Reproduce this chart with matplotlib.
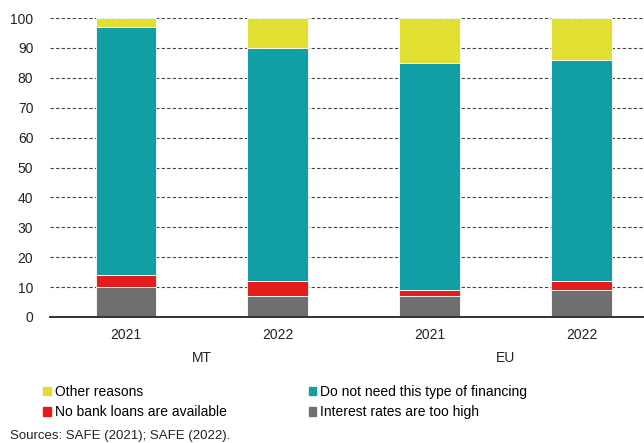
import matplotlib

matplotlib.use("Agg")
import matplotlib.pyplot as plt
import numpy as np
from matplotlib.patches import Patch

plt.rcParams["font.family"] = ["Liberation Sans", "DejaVu Sans"]

years = ["2021", "2022", "2021", "2022"]
groups = ["MT", "EU"]

interest_high = [10, 7, 7, 9]
no_bank_loans = [4, 5, 2, 3]
not_needed = [83, 78, 76, 74]
other_reasons = [3, 10, 15, 14]

series = [
    ("Interest rates are too high", interest_high, "#6f6f72"),
    ("No bank loans are available", no_bank_loans, "#e31d1c"),
    ("Do not need this type of financing", not_needed, "#119ea4"),
    ("Other reasons", other_reasons, "#e1e032"),
]

fig = plt.figure(figsize=(6.44, 4.43), dpi=100)
ax = fig.add_axes([50 / 644, 1 - 317 / 443, 594 / 644, 299 / 443])

x = np.arange(len(years))
bottom = np.zeros(len(years))
for name, vals, color in series:
    ax.bar(x, vals, bottom=bottom, width=0.4, color=color, edgecolor="white",
           linewidth=0.6, zorder=3)
    bottom += np.array(vals)

ax.set_xlim(-0.5, 3.41)
ax.set_ylim(0, 100)
ax.set_yticks(range(0, 101, 10))
ax.set_xticks(x)
ax.set_xticklabels(years)
ax.tick_params(length=0, labelsize=10, colors="#222222", pad=8)
ax.tick_params(axis="y", pad=12)
ax.yaxis.grid(True, linestyle=(0, (3, 2)), color="#444444", linewidth=0.8, zorder=0)
for s in ["left", "right", "top"]:
    ax.spines[s].set_visible(False)
ax.spines["bottom"].set_color("#333333")
ax.spines["bottom"].set_linewidth(1.4)
ax.spines["bottom"].set_zorder(4)

# group labels under the year ticks
for i, g in enumerate(groups):
    ax.text(2 * i + 0.5, -0.138, g, transform=ax.get_xaxis_transform(),
            ha="center", va="center", fontsize=10, color="#222222")

handles = [Patch(color=c, label=n) for n, _, c in series]
order = [3, 1, 2, 0]
fig.legend([handles[i] for i in order], [series[i][0] for i in order],
           loc="upper left", bbox_to_anchor=(43 / 644, 1 - 385 / 443), ncol=2,
           frameon=False, fontsize=10, handlelength=0.55, handleheight=0.55,
           handletextpad=0.3, columnspacing=5.9, labelspacing=0.45,
           borderaxespad=0, borderpad=0)

fig.text(10 / 644, 1 - 436 / 443, "Sources: SAFE (2021); SAFE (2022).",
         ha="left", va="center", fontsize=9.5, color="#222222")

fig.savefig("out.png", dpi=100)
